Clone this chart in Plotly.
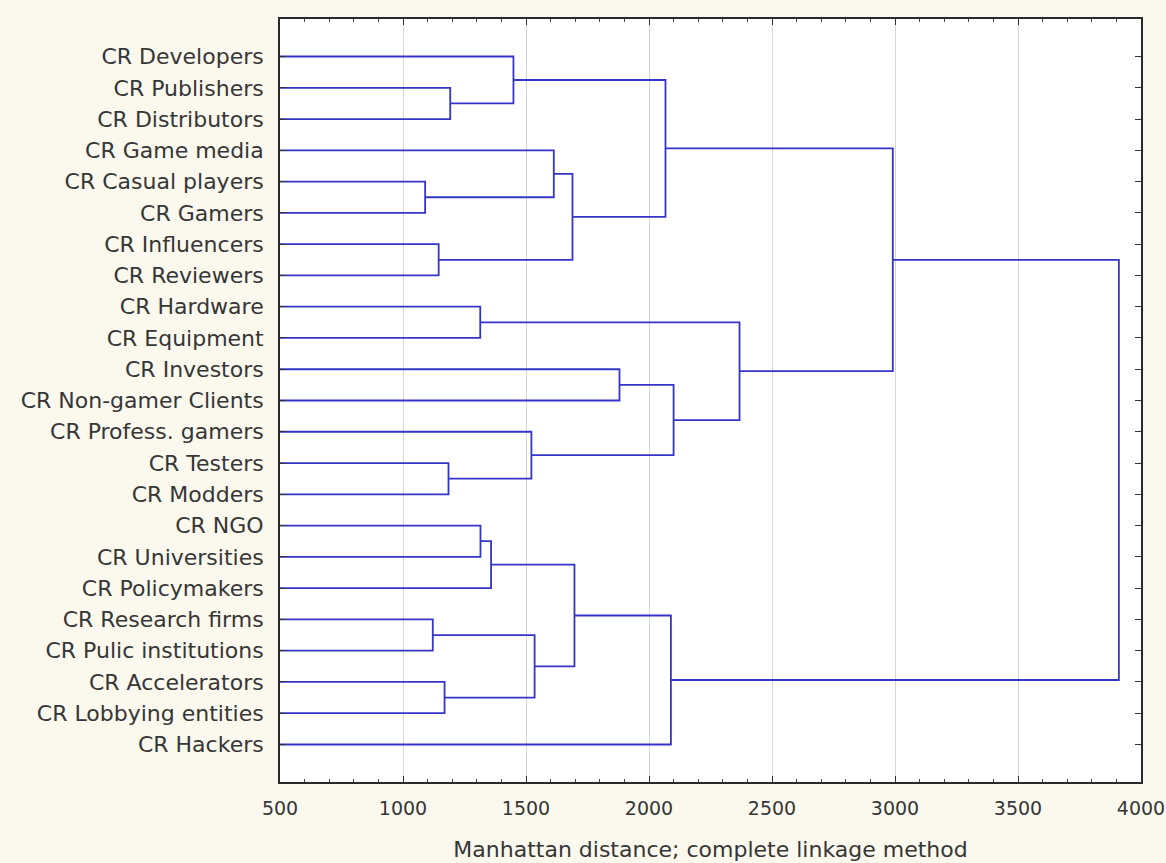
import plotly.graph_objects as go

# Leaves, top to bottom
leaves = [
    "CR Developers", "CR Publishers", "CR Distributors", "CR Game media",
    "CR Casual players", "CR Gamers", "CR Influencers", "CR Reviewers",
    "CR Hardware", "CR Equipment", "CR Investors", "CR Non-gamer Clients",
    "CR Profess. gamers", "CR Testers", "CR Modders", "CR NGO",
    "CR Universities", "CR Policymakers", "CR Research firms",
    "CR Pulic institutions", "CR Accelerators", "CR Lobbying entities",
    "CR Hackers",
]

# Merge steps: cluster ids 0..22 are leaves, new clusters get ids 23, 24, ...
merge_a = [4, 18, 6, 20, 13, 1, 8, 15, 30, 0, 12, 24, 3, 35, 31, 10, 32, 37, 38, 29, 39, 43]
merge_b = [5, 19, 7, 21, 14, 2, 9, 16, 17, 28, 27, 26, 23, 25, 34, 11, 36, 22, 33, 41, 42, 40]
merge_h = [1090, 1121, 1145, 1169, 1185, 1192, 1314, 1315, 1358, 1449, 1522, 1535,
           1613, 1689, 1697, 1880, 2067, 2089, 2100, 2368, 2991, 3910]

x_ticks = [500, 1000, 1500, 2000, 2500, 3000, 3500, 4000]
x_title = "Manhattan distance; complete linkage method"

n = len(leaves)
pos = {i: i + 1 for i in range(n)}
height = {i: 0 for i in range(n)}
xs, ys = [], []
for k, (a, b, h) in enumerate(zip(merge_a, merge_b, merge_h)):
    cid = n + k
    xs += [height[a], h, h, height[b], None]
    ys += [pos[a], pos[a], pos[b], pos[b], None]
    pos[cid] = (pos[a] + pos[b]) / 2
    height[cid] = h

line_col = "#3434c8"
txt_col = "#363636"
font_fam = "DejaVu Sans, Arial, sans-serif"

fig = go.Figure()
fig.add_trace(go.Scatter(x=xs, y=ys, mode="lines",
                         line=dict(color=line_col, width=1.8),
                         hoverinfo="skip", showlegend=False))

fig.update_layout(
    width=1166, height=863,
    margin=dict(l=280, r=25, t=19, b=81),
    paper_bgcolor="#fbf8ee",
    plot_bgcolor="#ffffff",
    font=dict(family=font_fam, color=txt_col),
    showlegend=False,
)
fig.update_xaxes(
    automargin=False,
    range=[500, 4000],
    tickvals=x_ticks,
    ticktext=[str(v) for v in x_ticks],
    ticks="inside", ticklen=6, tickwidth=1.2, tickcolor="#333333",
    minor=dict(ticks="inside", ticklen=3, dtick=100, tick0=500, tickcolor="#444444", showgrid=False),
    showgrid=True, gridcolor="#d4d4e0", gridwidth=1,
    showline=True, linecolor="#2a2a2a", linewidth=1.8, mirror="allticks",
    zeroline=False,
    tickfont=dict(size=19, family=font_fam, color=txt_col),
    ticklabelstandoff=8,
    title=dict(text=x_title, font=dict(size=22, family=font_fam, color=txt_col), standoff=24),
)
fig.update_yaxes(
    automargin=False,
    range=[n + 1.2, -0.2],
    tickvals=list(range(1, n + 1)),
    ticktext=leaves,
    ticks="inside", ticklen=6, tickwidth=1.2, tickcolor="#333333",
    showgrid=False,
    showline=True, linecolor="#2a2a2a", linewidth=1.8, mirror="allticks",
    zeroline=False,
    tickfont=dict(size=22, family=font_fam, color=txt_col),
    ticklabelstandoff=10,
)

fig.write_html("out.html", config={"displayModeBar": False},
               post_script="document.body.style.margin='0';")
